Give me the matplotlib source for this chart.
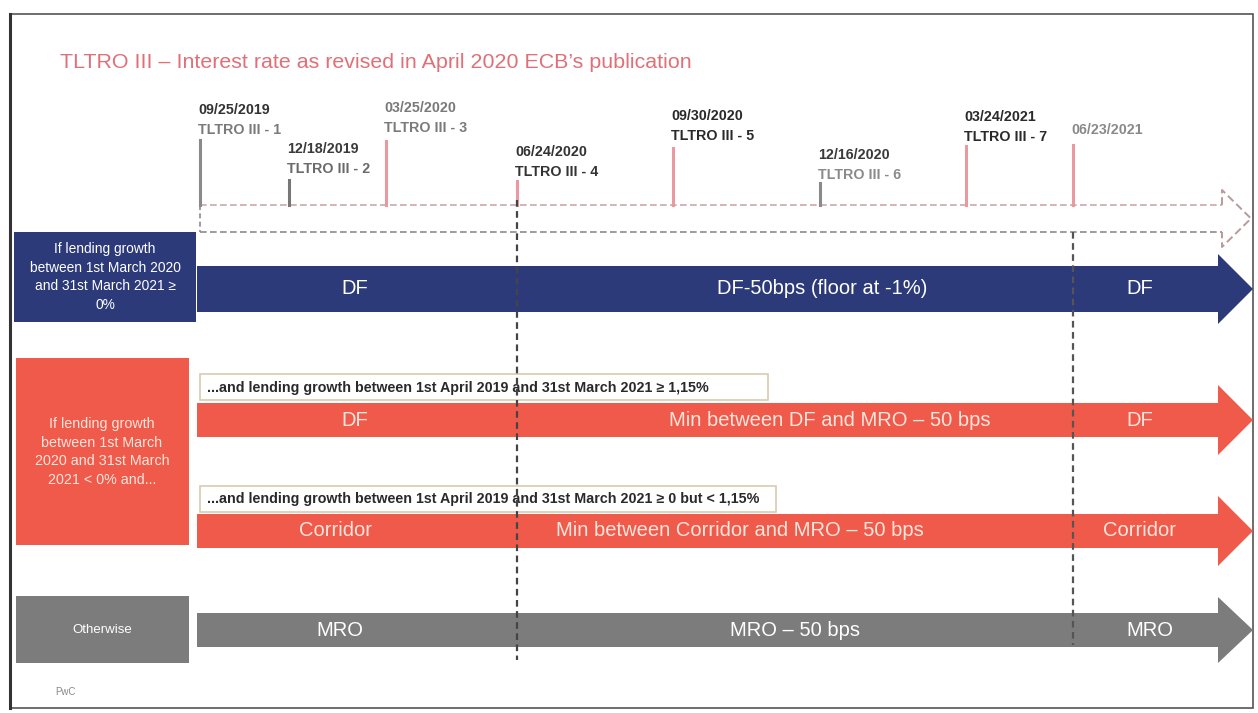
import matplotlib
matplotlib.use("Agg")
import matplotlib.pyplot as plt
from matplotlib.patches import Rectangle, Polygon

plt.rcParams['font.family'] = ['Liberation Sans', 'DejaVu Sans']

# ---- content ----
title = "TLTRO III \u2013 Interest rate as revised in April 2020 ECB\u2019s publication"
auction_dates = ["09/25/2019", "12/18/2019", "03/25/2020", "06/24/2020",
                 "09/30/2020", "12/16/2020", "03/24/2021", "06/23/2021"]
auction_names = ["TLTRO III - 1", "TLTRO III - 2", "TLTRO III - 3", "TLTRO III - 4",
                 "TLTRO III - 5", "TLTRO III - 6", "TLTRO III - 7", ""]

row_labels = ["If lending growth\nbetween 1st March 2020\nand 31st March 2021 \u2265\n0%",
              "If lending growth\nbetween 1st March\n2020 and 31st March\n2021 < 0% and...",
              "Otherwise"]
sub_conditions = ["...and lending growth between 1st April 2019 and 31st March 2021 \u2265 1,15%",
                  "...and lending growth between 1st April 2019 and 31st March 2021 \u2265 0 but < 1,15%"]
segments_navy = ["DF", "DF-50bps (floor at -1%)", "DF"]
segments_red1 = ["DF", "Min between DF and MRO \u2013 50 bps", "DF"]
segments_red2 = ["Corridor", "Min between Corridor and MRO \u2013 50 bps", "Corridor"]
segments_grey = ["MRO", "MRO \u2013 50 bps", "MRO"]

# ---- layout (pixels) ----
W, H = 1258, 713
tick_x = [200, 289, 386, 517, 673, 820, 966, 1073]
date_y = [110, 149, 108, 152, 116, 155, 117, 130]
tick_top = [140, 180, 141, 181, 148, 183, 146, 145]
date_col = ['#333333', '#3a3a3a', '#7a7a7a', '#333333', '#2a2a2a', '#3a3a3a', '#2a2a2a', '#8a8a8a']
name_col = ['#7a7a7a', '#6a6a6a', '#7a7a7a', '#333333', '#2a2a2a', '#8a8a8a', '#2a2a2a', '#8a8a8a']
tick_col = ['#8a8a8a', '#777777', '#e89aa0', '#e89aa0', '#e89aa0', '#8a8a8a', '#e89aa0', '#e89aa0']

NAVY = '#2d3a7a'
RED = '#f05a4a'
GREY = '#7c7c7c'

fig = plt.figure(figsize=(W / 100, H / 100), dpi=100)
ax = fig.add_axes([0, 0, 1, 1])
ax.set_xlim(0, W)
ax.set_ylim(H, 0)
ax.axis('off')

# outer frame
ax.add_patch(Rectangle((10, 14), 1243, 694, fill=False, ec='#555555', lw=1.2))
ax.plot([10, 10], [14, 708], color='#333333', lw=2.2)

ax.text(60, 63, title, fontsize=15.4, color='#e07078', va='center', ha='left')

# dashed timeline arrow outline
x0, x1, tip = 200, 1222, 1251
ax.plot([x0, x1], [205, 205], ls=(0, (4, 2)), color='#c9a8aa', lw=1.2)
ax.plot([x0, x1], [232, 232], ls=(0, (4, 2)), color='#8c8c8c', lw=1.2)
ax.plot([x0, x0], [205, 232], ls=(0, (3, 2)), color='#8c8c8c', lw=1.2)
ax.plot([x1, x1, tip, x1, x1], [205, 190, 218.5, 247, 232], ls=(0, (4, 2)),
        color='#b89a9c', lw=1.4)

# auction ticks and labels
for i, (d, n) in enumerate(zip(auction_dates, auction_names)):
    x = tick_x[i]
    ax.plot([x, x], [tick_top[i], 205], color=tick_col[i], lw=2.2)
    ax.text(x - 2, date_y[i], d, fontsize=10.3, fontweight='bold', color=date_col[i],
            va='center', ha='left')
    if n:
        ax.text(x - 2, date_y[i] + 20, n, fontsize=10.3, fontweight='bold',
                color=name_col[i], va='center', ha='left')

# vertical dashed lines for 06/24/2020 and 06/23/2021
ax.plot([tick_x[3], tick_x[3]], [200, 660], ls=(0, (3, 2)), color='#444444', lw=1.6, zorder=5)
ax.plot([tick_x[7], tick_x[7]], [232, 645], ls=(0, (3, 2)), color='#555555', lw=1.6, zorder=5)


def big_arrow(yc, half, head_half, color):
    xs = [197, 1218, 1218, 1253, 1218, 1218, 197]
    ys = [yc - half, yc - half, yc - head_half, yc, yc + head_half, yc + half, yc + half]
    ax.add_patch(Polygon(list(zip(xs, ys)), closed=True, fc=color, ec='none', zorder=3))


def seg_labels(yc, labels, xs, color):
    for lab, x in zip(labels, xs):
        ax.text(x, yc, lab, fontsize=14.5, color=color, ha='center', va='center', zorder=6)


# left condition boxes
ax.add_patch(Rectangle((14, 232), 182, 90, fc=NAVY, ec='none'))
ax.text(105, 277, row_labels[0], fontsize=9.9, color='white', ha='center', va='center',
        linespacing=1.45)
ax.add_patch(Rectangle((16, 358), 173, 187, fc=RED, ec='none'))
ax.text(102, 452, row_labels[1], fontsize=10.3, color='#fde6de', ha='center', va='center',
        linespacing=1.4)
ax.add_patch(Rectangle((16, 596), 173, 67, fc=GREY, ec='none'))
ax.text(102, 630, row_labels[2], fontsize=9.5, color='white', ha='center', va='center')

# rows of arrows
big_arrow(289, 23, 35, NAVY)
seg_labels(289, segments_navy, [355, 822, 1140], 'white')

ax.add_patch(Rectangle((200, 374), 568, 26, fc='white', ec='#d8ccb0', lw=1.2, zorder=4))
ax.text(207, 388, sub_conditions[0], fontsize=10.3, fontweight='bold', color='#2a2a2a',
        ha='left', va='center', zorder=4)
big_arrow(420, 17, 35, RED)
seg_labels(420, segments_red1, [355, 830, 1140], '#fde6de')

ax.add_patch(Rectangle((200, 486), 576, 26, fc='white', ec='#d8ccb0', lw=1.2, zorder=4))
ax.text(207, 499, sub_conditions[1], fontsize=10.3, fontweight='bold', color='#2a2a2a',
        ha='left', va='center', zorder=4)
big_arrow(531, 17, 35, RED)
seg_labels(531, segments_red2, [336, 740, 1140], '#fde6de')

big_arrow(630, 17, 33, GREY)
seg_labels(630, segments_grey, [340, 795, 1150], 'white')

ax.text(55, 692, "PwC", fontsize=7, color='#888888', ha='left', va='center')

fig.savefig("out.png", dpi=100)
